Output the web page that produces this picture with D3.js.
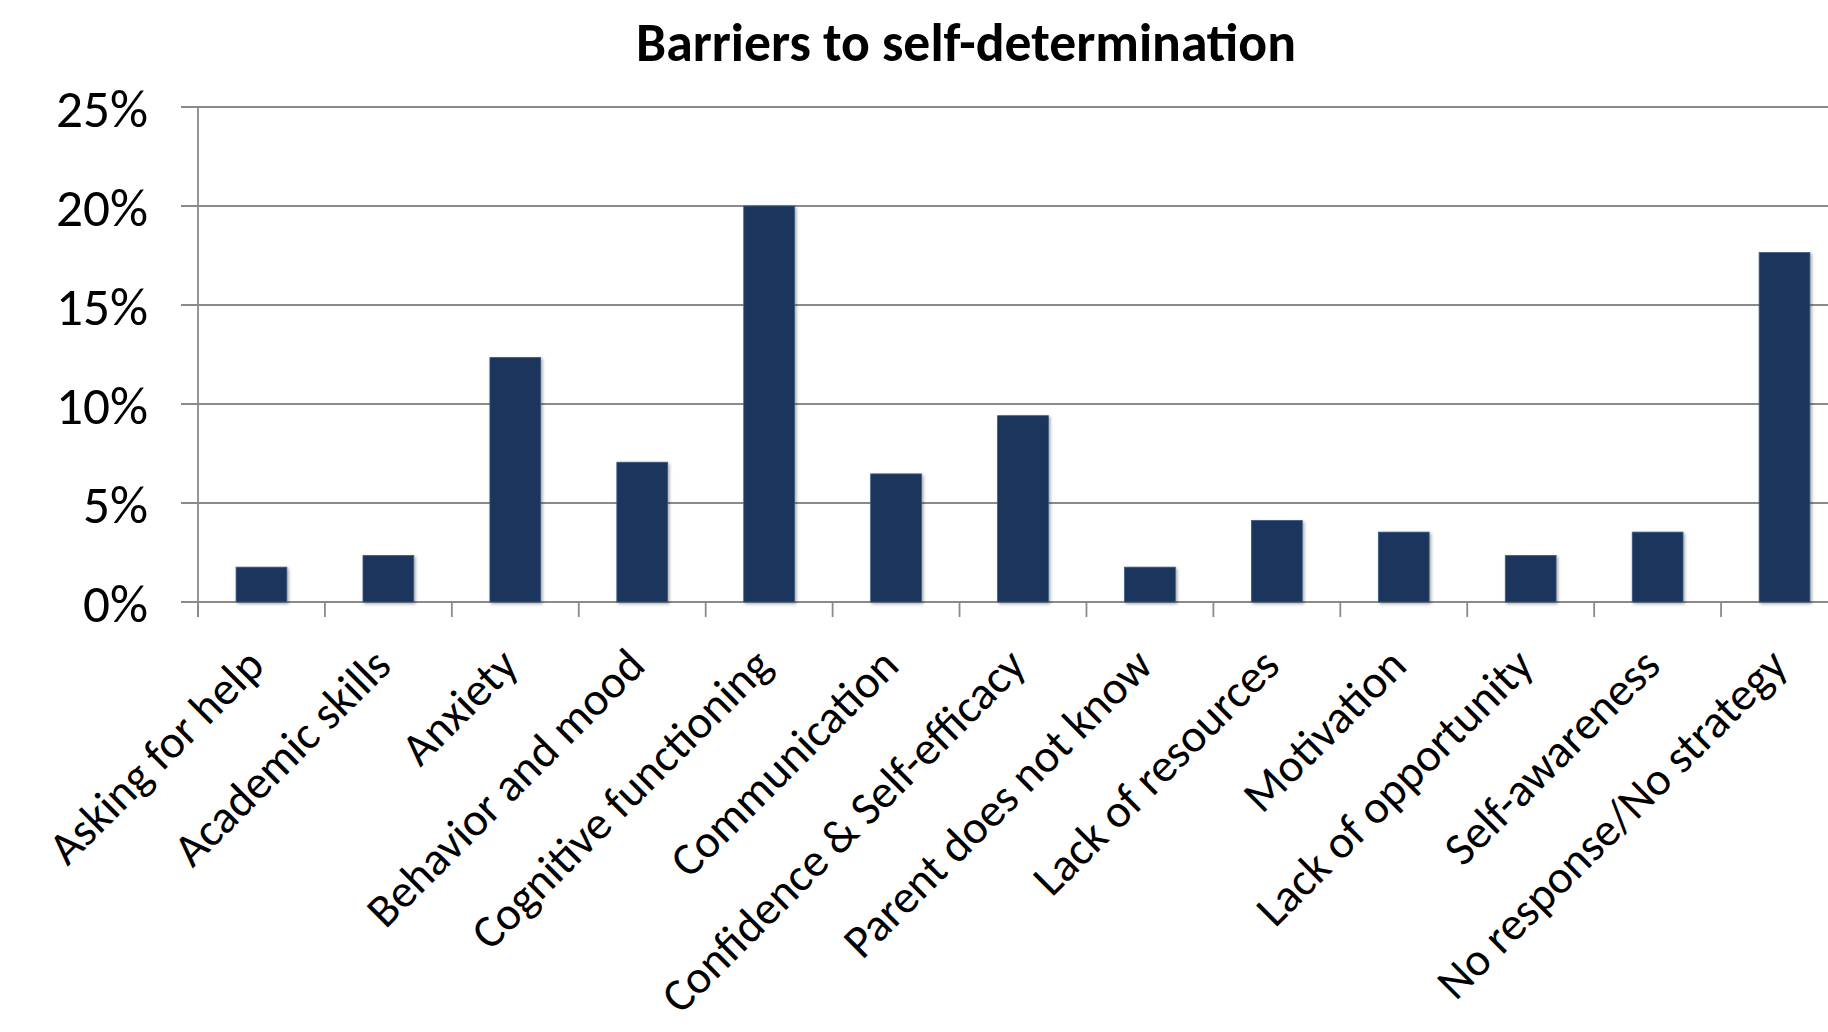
<!DOCTYPE html>
<html>
<head>
<meta charset="utf-8">
<script src="https://cdn.jsdelivr.net/npm/d3@7"></script>
<style>
  html, body { margin: 0; padding: 0; background: #ffffff; }
  svg { display: block; }
  text { font-family: Carlito, Lato, "Open Sans", sans-serif; fill: #000; }
</style>
</head>
<body>
<svg id="chart" width="1828" height="1032"></svg>
<script>
// Chart content
const title = "Barriers to self-determination";
const categories = [
  "Asking for help",
  "Academic skills",
  "Anxiety",
  "Behavior and mood",
  "Cognitive functioning",
  "Communication",
  "Confidence & Self-efficacy",
  "Parent does not know",
  "Lack of resources",
  "Motivation",
  "Lack of opportunity",
  "Self-awareness",
  "No response/No strategy"
];
// Share of responses, in percent
const values = [1.76, 2.35, 12.35, 7.06, 20.0, 6.47, 9.41, 1.76, 4.12, 3.53, 2.35, 3.53, 17.65];
const yTicks = [0, 5, 10, 15, 20, 25];

const W = 1828, H = 1032;
const plot = { left: 198, right: 1848, top: 107, bottom: 602 };

const svg = d3.select("#chart");

const x = d3.scaleBand()
  .domain(categories)
  .range([plot.left, plot.right])
  .paddingInner(0.6)
  .paddingOuter(0.3);

const y = d3.scaleLinear()
  .domain([0, 25])
  .range([plot.bottom, plot.top]);

const gridColor = "#8a8a8a";

// Soft shadow under the bars
const defs = svg.append("defs");
const f = defs.append("filter").attr("id", "barShadow")
  .attr("x", "-20%").attr("y", "-5%").attr("width", "140%").attr("height", "115%");
f.append("feDropShadow")
  .attr("dx", 1.5).attr("dy", 1.5).attr("stdDeviation", 1.6)
  .attr("flood-color", "#000").attr("flood-opacity", 0.35);

// Horizontal gridlines (they also form the short ticks left of the axis)
svg.append("g").selectAll("line")
  .data(yTicks)
  .join("line")
  .attr("x1", plot.left - 17)
  .attr("x2", plot.right)
  .attr("y1", d => y(d))
  .attr("y2", d => y(d))
  .attr("stroke", gridColor)
  .attr("stroke-width", 1.8);

// Vertical value axis line
svg.append("line")
  .attr("x1", plot.left).attr("x2", plot.left)
  .attr("y1", y(25)).attr("y2", plot.bottom + 15)
  .attr("stroke", gridColor).attr("stroke-width", 1.8);

// Category boundary ticks below the baseline
const bounds = d3.range(categories.length + 1).map(i => plot.left + i * x.step());
svg.append("g").selectAll("line")
  .data(bounds)
  .join("line")
  .attr("x1", d => d).attr("x2", d => d)
  .attr("y1", plot.bottom).attr("y2", plot.bottom + 15)
  .attr("stroke", gridColor).attr("stroke-width", 1.8);

// Bars
svg.append("g").selectAll("rect")
  .data(values)
  .join("rect")
  .attr("x", (d, i) => x(categories[i]))
  .attr("width", x.bandwidth())
  .attr("y", d => y(d))
  .attr("height", d => y(0) - y(d))
  .attr("fill", "#1a365d")
  .attr("stroke", "#3d5c84")
  .attr("stroke-width", 0.8)
  .attr("filter", "url(#barShadow)");

// Fit a text selection's font size so a sample item spans a target width
function fitFont(sel, sample, target, base) {
  sel.style("font-size", base + "px");
  let w = 0;
  sel.each(function () { if (this.textContent === sample) w = this.getComputedTextLength(); });
  if (w > 0) sel.style("font-size", (base * target / w).toFixed(2) + "px");
}

// Value axis labels
const yAxis = d3.axisLeft(y)
  .tickValues(yTicks)
  .tickFormat(d => d + "%")
  .tickSize(0)
  .tickPadding(0);
const yg = svg.append("g")
  .attr("transform", `translate(${plot.left - 50},0)`)
  .call(yAxis);
yg.select(".domain").remove();
yg.selectAll("text")
  .attr("dy", "0.36em")
  .attr("fill", "#000")
  .style("font-family", "Carlito, Lato, 'Open Sans', sans-serif");
fitFont(yg.selectAll("text"), "25%", 92, 52);

// Category labels, rotated
const xAxis = d3.axisBottom(x).tickSize(0).tickPadding(0);
const xg = svg.append("g")
  .attr("transform", `translate(0,${plot.bottom})`)
  .call(xAxis);
xg.select(".domain").remove();
xg.selectAll(".tick text")
  .attr("text-anchor", "end")
  .attr("dy", 0)
  .attr("y", 0)
  .attr("transform", "translate(5,66) rotate(-45)")
  .attr("fill", "#000")
  .style("font-family", "Carlito, Lato, 'Open Sans', sans-serif");
fitFont(xg.selectAll(".tick text"), "No response/No strategy", 472, 45);

// Title
const t = svg.append("text")
  .attr("x", 966)
  .attr("y", 61)
  .attr("text-anchor", "middle")
  .style("font-weight", "bold")
  .text(title);
fitFont(t, title, 660, 50);
</script>
</body>
</html>
